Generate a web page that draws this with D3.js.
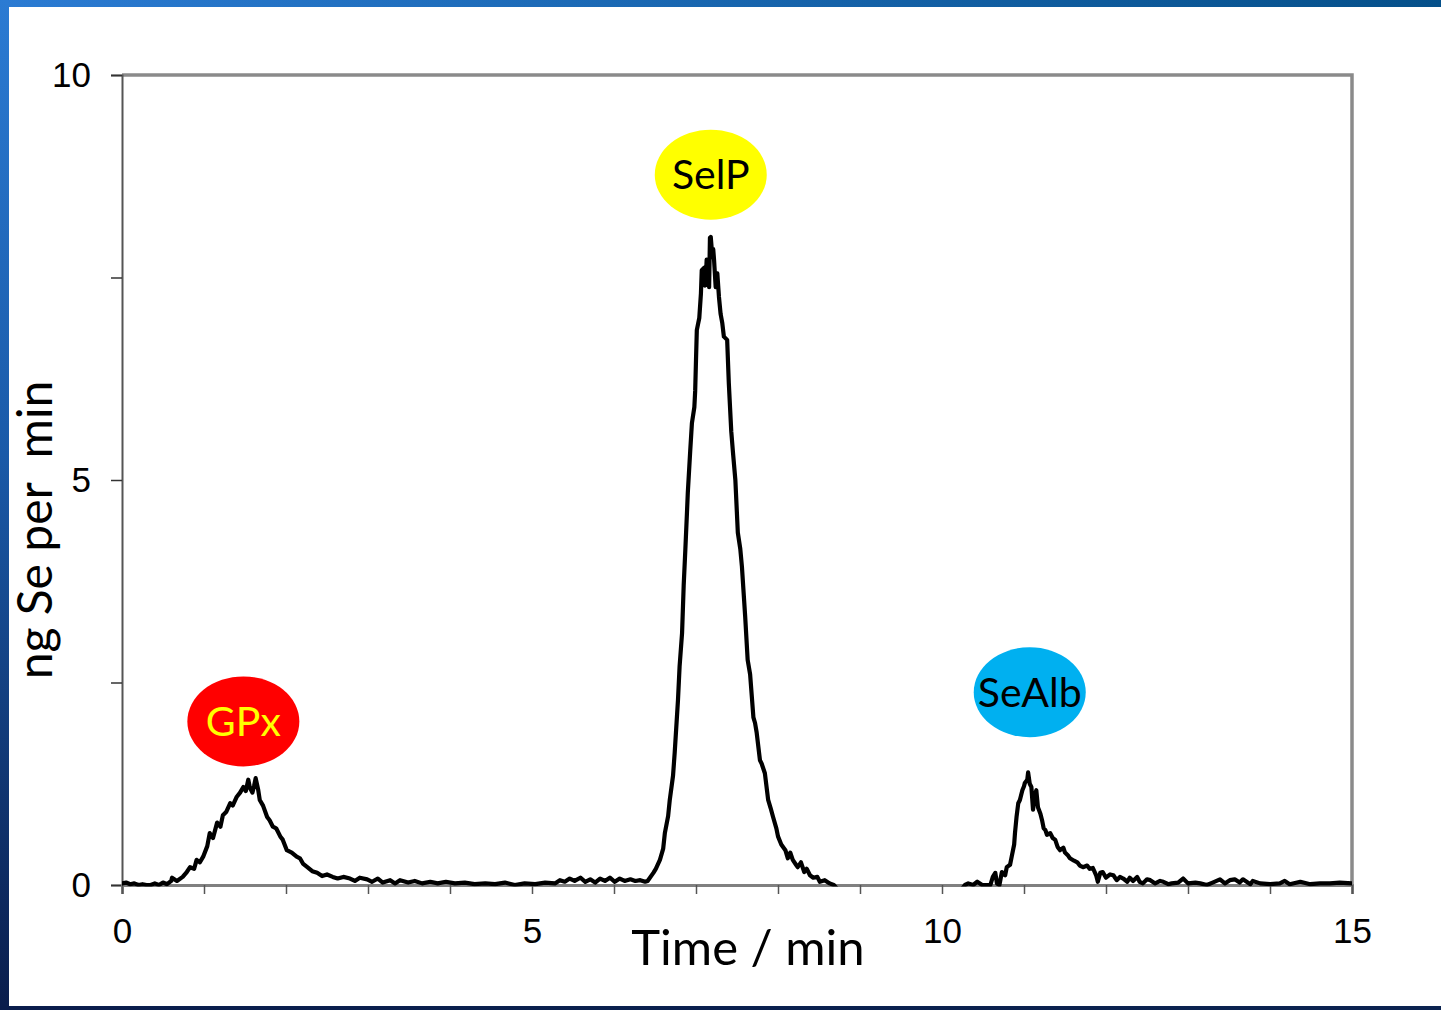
<!DOCTYPE html>
<html>
<head>
<meta charset="utf-8">
<script src="https://cdn.jsdelivr.net/npm/d3@7"></script>
<style>
  html, body { margin: 0; padding: 0; background: #ffffff; }
  svg { display: block; }
</style>
</head>
<body>
<svg id="chart" width="1441" height="1010"></svg>
<script>
// Se-speciation chromatogram: signal (ng Se per min) versus retention time (min)
// Readings below zero fall outside the plot area and are clipped away.
const trace = [
  [0.00,0.02],[0.05,0.03],[0.10,0.01],[0.15,0.02],[0.20,0.00],[0.25,0.01],[0.30,0.00],[0.35,0.00],
  [0.40,0.02],[0.45,0.00],[0.50,0.03],[0.55,0.01],[0.60,0.05],
  [0.61,0.09],[0.67,0.05],[0.74,0.10],[0.79,0.16],[0.83,0.22],[0.88,0.20],[0.91,0.31],[0.95,0.28],
  [0.99,0.35],[1.04,0.48],[1.07,0.64],[1.11,0.58],[1.16,0.77],[1.20,0.72],[1.23,0.86],[1.27,0.90],
  [1.32,1.01],[1.35,0.98],[1.40,1.09],[1.44,1.14],[1.48,1.21],[1.51,1.16],[1.54,1.30],[1.56,1.20],
  [1.59,1.14],[1.61,1.22],[1.63,1.32],[1.66,1.18],[1.68,1.05],[1.72,0.98],[1.77,0.84],[1.80,0.80],
  [1.84,0.72],[1.88,0.70],[1.93,0.60],[1.96,0.56],[2.01,0.43],[2.07,0.40],[2.13,0.35],[2.17,0.33],
  [2.21,0.26],[2.26,0.22],[2.32,0.17],[2.38,0.15],[2.44,0.11],[2.50,0.13],[2.57,0.10],[2.63,0.08],
  [2.70,0.10],[2.78,0.08],[2.84,0.05],[2.90,0.09],[2.99,0.07],[3.05,0.04],[3.12,0.08],[3.18,0.03],
  [3.27,0.06],[3.33,0.02],[3.39,0.06],[3.49,0.03],[3.57,0.05],[3.66,0.02],[3.76,0.04],[3.85,0.02],
  [3.95,0.04],[4.06,0.02],[4.18,0.03],[4.30,0.01],[4.43,0.02],[4.55,0.01],[4.67,0.03],[4.79,0.00],
  [4.91,0.02],[5.04,0.01],[5.16,0.03],[5.28,0.02],[5.34,0.06],[5.40,0.04],[5.46,0.08],[5.52,0.05],
  [5.59,0.09],[5.65,0.04],[5.71,0.07],[5.77,0.03],[5.83,0.08],[5.89,0.05],[5.95,0.09],[6.01,0.04],
  [6.07,0.08],[6.13,0.05],[6.20,0.07],[6.26,0.05],[6.32,0.06],[6.38,0.04],[6.41,0.05],
  [6.48,0.15],[6.51,0.20],[6.56,0.31],[6.60,0.45],[6.62,0.64],[6.66,0.85],[6.68,1.05],[6.72,1.35],
  [6.74,1.63],[6.78,2.28],[6.80,2.70],[6.83,3.11],[6.85,3.70],[6.87,4.14],[6.89,4.60],[6.90,4.84],
  [6.93,5.37],[6.95,5.70],[6.98,5.90],[6.99,6.10],[7.00,6.48],[7.01,6.85],[7.04,7.00],[7.06,7.30],
  [7.07,7.59],[7.10,7.62],[7.11,7.40],[7.12,7.50],[7.13,7.72],[7.15,7.62],[7.16,7.38],[7.17,7.99],
  [7.18,8.00],[7.20,7.75],[7.21,7.85],[7.22,7.72],[7.24,7.38],[7.26,7.55],[7.28,7.26],[7.30,7.05],
  [7.32,6.94],[7.34,6.77],[7.38,6.73],[7.40,6.20],[7.43,5.60],[7.45,5.35],[7.48,5.00],[7.51,4.35],
  [7.54,4.15],[7.56,3.93],[7.60,3.31],[7.63,2.78],[7.66,2.60],[7.70,2.07],[7.72,2.00],[7.74,1.88],
  [7.78,1.54],[7.80,1.50],[7.84,1.38],[7.88,1.05],[7.91,0.95],[7.94,0.84],[7.98,0.70],[8.00,0.60],
  [8.04,0.50],[8.09,0.43],[8.12,0.33],[8.15,0.40],[8.18,0.31],[8.22,0.25],[8.24,0.22],[8.28,0.28],
  [8.32,0.16],[8.35,0.20],[8.39,0.12],[8.43,0.09],[8.48,0.10],[8.51,0.04],[8.57,0.06],[8.63,0.02],
  [8.68,0.00],[8.75,-0.08],[9.00,-0.10],[9.50,-0.12],[10.00,-0.10],[10.22,-0.08],[10.28,0.00],
  [10.32,0.02],[10.38,0.00],[10.43,0.04],[10.49,0.00],[10.59,0.00],[10.62,0.10],[10.65,0.15],[10.67,0.02],
  [10.70,0.00],[10.73,0.16],[10.77,0.12],[10.79,0.22],[10.83,0.25],[10.85,0.35],[10.88,0.50],[10.89,0.64],
  [10.91,0.85],[10.93,1.01],[10.95,1.05],[10.98,1.17],[11.00,1.22],[11.01,1.26],[11.04,1.30],[11.05,1.39],
  [11.07,1.25],[11.09,1.21],[11.11,0.93],[11.13,1.10],[11.15,1.17],[11.17,0.96],[11.20,0.88],[11.22,0.80],
  [11.24,0.70],[11.26,0.68],[11.28,0.62],[11.32,0.64],[11.35,0.58],[11.38,0.56],[11.41,0.47],[11.44,0.43],
  [11.48,0.46],[11.50,0.40],[11.54,0.36],[11.56,0.33],[11.61,0.30],[11.65,0.28],[11.68,0.24],[11.72,0.22],
  [11.77,0.24],[11.80,0.20],[11.84,0.21],[11.88,0.12],[11.90,0.04],[11.93,0.15],[11.96,0.16],[12.00,0.09],
  [12.05,0.13],[12.09,0.12],[12.13,0.06],[12.17,0.10],[12.21,0.08],[12.26,0.04],[12.29,0.09],[12.33,0.05],
  [12.38,0.10],[12.41,0.04],[12.45,0.02],[12.50,0.07],[12.54,0.06],[12.60,0.02],[12.66,0.05],[12.70,0.04],
  [12.76,0.01],[12.80,0.02],[12.88,0.03],[12.94,0.08],[13.00,0.02],[13.09,0.03],[13.15,0.02],[13.23,0.00],
  [13.30,0.03],[13.39,0.07],[13.45,0.02],[13.51,0.06],[13.57,0.07],[13.63,0.03],[13.67,0.07],[13.76,0.01],
  [13.79,0.05],[13.88,0.02],[14.00,0.01],[14.12,0.02],[14.18,0.05],[14.24,0.01],[14.37,0.04],[14.49,0.01],
  [14.61,0.02],[14.73,0.02],[14.85,0.03],[15.00,0.02]
];

// Peak annotations: name, retention time and signal at the badge centre
const peakNames  = ["GPx", "SelP", "SeAlb"];
const peakTimes  = [1.48, 7.18, 11.07];
const peakLevels = [2.02, 8.77, 2.38];
const peakFills  = ["#ff0000", "#ffff00", "#00b0f0"];
const peakInks   = ["#ffff00", "#000000", "#000000"];

const xTicks = d3.range(0, 16, 1);
const xTickLabels = [0, 5, 10, 15];
const yTicks = [0, 2.5, 5, 7.5, 10];
const yTickLabels = [0, 5, 10];

const svg = d3.select("#chart");
const W = 1441, H = 1010;

// Slide frame
const defs = svg.append("defs");
const gTop = defs.append("linearGradient").attr("id", "topBand").attr("x1", "0").attr("x2", "1").attr("y1", "0").attr("y2", "0");
gTop.append("stop").attr("offset", "0").attr("stop-color", "#2b7bd3");
gTop.append("stop").attr("offset", "1").attr("stop-color", "#05508a");
const gLeft = defs.append("linearGradient").attr("id", "leftBand").attr("x1", "0").attr("x2", "0").attr("y1", "0").attr("y2", "1");
gLeft.append("stop").attr("offset", "0").attr("stop-color", "#2b7bd3");
gLeft.append("stop").attr("offset", "0.45").attr("stop-color", "#1a5aa8");
gLeft.append("stop").attr("offset", "1").attr("stop-color", "#0a1d4c");
const gBottom = defs.append("linearGradient").attr("id", "bottomBand").attr("x1", "0").attr("x2", "1").attr("y1", "0").attr("y2", "0");
gBottom.append("stop").attr("offset", "0").attr("stop-color", "#0a1d4c");
gBottom.append("stop").attr("offset", "1").attr("stop-color", "#0b2350");

svg.append("rect").attr("x", 0).attr("y", 0).attr("width", W).attr("height", H).attr("fill", "#ffffff");
svg.append("rect").attr("x", 0).attr("y", 0).attr("width", W).attr("height", 7).attr("fill", "url(#topBand)");
svg.append("rect").attr("x", 0).attr("y", 0).attr("width", 9).attr("height", H).attr("fill", "url(#leftBand)");
svg.append("rect").attr("x", 0).attr("y", 1006).attr("width", W).attr("height", 4).attr("fill", "url(#bottomBand)");

// Plot area
const plotLeft = 122, plotRight = 1352, plotTop = 75, plotBottom = 885;
const x = d3.scaleLinear().domain([0, 15]).range([plotLeft, plotRight]);
const y = d3.scaleLinear().domain([0, 10]).range([plotBottom, plotTop]);

defs.append("clipPath").attr("id", "plotClip")
  .append("rect")
  .attr("x", plotLeft).attr("y", plotTop)
  .attr("width", plotRight - plotLeft).attr("height", plotBottom - plotTop + 1.5);

// Top and right frame
svg.append("path")
  .attr("d", `M${plotLeft},${plotTop}H${plotRight}V${plotBottom}`)
  .attr("fill", "none").attr("stroke", "#8a8a8a").attr("stroke-width", 3.5);

// Y axis
const yAxis = d3.axisLeft(y)
  .tickValues(yTicks)
  .tickSize(11)
  .tickPadding(20)
  .tickFormat(d => yTickLabels.includes(d) ? d3.format("d")(d) : "");
const gy = svg.append("g").attr("transform", `translate(${plotLeft},0)`).call(yAxis);
gy.select(".domain").attr("stroke", "#555555").attr("stroke-width", 2);
gy.selectAll(".tick line").attr("stroke", "#333333").attr("stroke-width", 1.5);
gy.selectAll(".tick text").attr("font-family", "'Liberation Sans', Arial, sans-serif")
  .attr("font-size", 35).attr("fill", "#000");

// X axis
const xAxis = d3.axisBottom(x)
  .tickValues(xTicks)
  .tickSize(9)
  .tickPadding(24)
  .tickFormat(d => xTickLabels.includes(d) ? d3.format("d")(d) : "");
const gx = svg.append("g").attr("transform", `translate(0,${plotBottom})`).call(xAxis);
gx.select(".domain").attr("stroke", "#808080").attr("stroke-width", 3);
gx.selectAll(".tick line").attr("stroke", "#555555").attr("stroke-width", 1.5);
gx.selectAll(".tick text").attr("font-family", "'Liberation Sans', Arial, sans-serif")
  .attr("font-size", 35).attr("fill", "#000");

// Axis titles
svg.append("text")
  .attr("x", 748).attr("y", 965)
  .attr("text-anchor", "middle")
  .attr("font-family", "Lato, 'Open Sans', sans-serif")
  .attr("font-size", 49)
  .attr("fill", "#000")
  .text("Time / min");

svg.append("text")
  .attr("transform", `translate(52,530) rotate(-90)`)
  .attr("text-anchor", "middle")
  .attr("font-family", "Lato, 'Open Sans', sans-serif")
  .attr("font-size", 48)
  .attr("fill", "#000")
  .style("white-space", "pre")
  .text("ng Se per  min");

// Chromatogram trace
const line = d3.line()
  .x(d => x(d[0]))
  .y(d => y(d[1]));
svg.append("g").attr("clip-path", "url(#plotClip)")
  .append("path")
  .datum(trace)
  .attr("d", line)
  .attr("fill", "none")
  .attr("stroke", "#000")
  .attr("stroke-width", 4.2)
  .attr("stroke-linejoin", "round")
  .attr("stroke-linecap", "round");

// Peak badges
const badges = svg.append("g").selectAll("g")
  .data(peakNames.map((n, i) => ({ name: n, t: peakTimes[i], v: peakLevels[i], fill: peakFills[i], ink: peakInks[i] })))
  .join("g")
  .attr("transform", d => `translate(${x(d.t)},${y(d.v)})`);
badges.append("ellipse").attr("rx", 56).attr("ry", 45).attr("fill", d => d.fill);
badges.append("text")
  .attr("text-anchor", "middle")
  .attr("dy", "0.36em")
  .attr("font-family", "Lato, 'Open Sans', sans-serif")
  .attr("font-size", 41)
  .attr("fill", d => d.ink)
  .text(d => d.name);
</script>
</body>
</html>
